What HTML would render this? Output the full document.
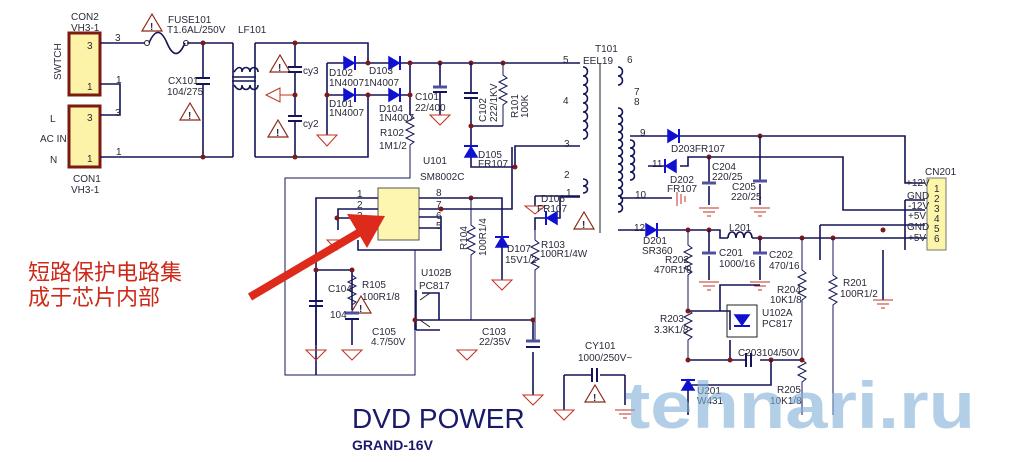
<!DOCTYPE html>
<html><head><meta charset="utf-8"><style>
html,body{margin:0;padding:0;background:#fff;}
svg{display:block;}
text{font-family:"Liberation Sans",sans-serif;font-size:10px;fill:#2a2a3a;}
.w{stroke:#14145a;stroke-width:1.6;fill:none;}
.t{stroke:#222;stroke-width:1;fill:none;}
.d{fill:#7a1a1a;}
.g{stroke:#c03020;stroke-width:1;fill:none;}
.dio{fill:#1010d0;stroke:#1010d0;stroke-width:1.5;}
.c{stroke:#14145a;stroke-width:2;}
.r{stroke:#14145a;stroke-width:1;fill:none;}
</style></head><body>
<svg width="1024" height="462" viewBox="0 0 1024 462" xmlns="http://www.w3.org/2000/svg">
<rect x="69" y="33" width="31" height="62" fill="#fdf3a8" stroke="#7a1a10" stroke-width="3"/>
<rect x="69" y="106" width="31" height="61" fill="#fdf3a8" stroke="#7a1a10" stroke-width="3"/>
<text x="87" y="49">3</text><text x="87" y="90">1</text><text x="87" y="121">3</text><text x="87" y="162">1</text>
<text x="71" y="20">CON2</text><text x="71" y="31">VH3-1</text>
<text x="73" y="182">CON1</text><text x="71" y="193">VH3-1</text>
<text x="61" y="80" transform="rotate(-90 61 80)">SWTCH</text>
<text x="50" y="122">L</text><text x="40" y="142">AC IN</text><text x="50" y="163">N</text>
<path class="w" d="M100 43H145 M187 43H233 M100 84H120V115H100 M100 157H233 M233 43V157 M255 43V157 M255 43H368V63 M255 157H368V95"/>
<text x="115" y="41">3</text><text x="116" y="83">1</text><text x="115" y="116">3</text><text x="116" y="155">1</text>
<circle cx="147" cy="43" r="2.5" class="t"/><circle cx="186" cy="43" r="2.5" class="t"/>
<path class="w" d="M149 43c6 -14 12 -14 18 0s12 14 18 0"/>
<text x="168" y="23">FUSE101</text><text x="167" y="33">T1.6AL/250V</text><text x="238" y="33">LF101</text>
<path class="w" d="M203 43V78 M203 85V157"/><path class="c" d="M196 78H210M196 84H210"/>
<text x="168" y="84">CX101</text><text x="167" y="95">104/275</text>
<circle cx="203" cy="43" r="2.5" class="d"/><circle cx="203" cy="157" r="2.5" class="d"/>
<path class="w" d="M234 72c4-6 8-6 8 0c0-6 8-6 8 0c0-6 8-6 8 0 M234 85c4 6 8 6 8 0c0 6 8 6 8 0c0 6 8 6 8 0 M232 77H256M232 81H256"/>
<g fill="none" stroke="#8a2a1a" stroke-width="1.2">
<path d="M152 14L142 31H162Z"/><path d="M190 103L180 120H200Z"/><path d="M280 55L270 72H290Z"/><path d="M278 120L268 137H288Z"/><path d="M584 212L574 229H594Z"/><path d="M361 296L351 313H371Z"/><path d="M595 385L585 402H605Z"/>
</g>
<g font-weight="bold" font-size="10"><text x="150" y="30">!</text><text x="188" y="119">!</text><text x="278" y="71">!</text><text x="276" y="136">!</text><text x="582" y="228">!</text><text x="359" y="312">!</text><text x="593" y="401">!</text></g>
<path class="w" d="M295 43V67 M295 72V116 M295 121V157"/><path class="c" d="M288 67H302M288 72H302M288 116H302M288 121H302"/>
<text x="303" y="74">cy3</text><text x="303" y="127">cy2</text>
<path class="g" d="M295 95H280 M280 88L266 95L280 102Z"/>
<circle cx="295" cy="43" r="2.5" class="d"/><circle cx="295" cy="95" r="2.5" class="d"/><circle cx="295" cy="157" r="2.5" class="d"/>
<path class="w" d="M327 63V135 M327 63H368H410V95 M327 95H410 M410 63H580 M410 95V115"/>
<path class="g" d="M317 135H337L327 146Z"/>
<path class="dio" d="M344 57L354 63L344 69Z M389 57L399 63L389 69Z M344 89L354 95L344 101Z M389 89L399 95L389 101Z"/>
<path stroke="#1010d0" stroke-width="2" d="M355 56V70M400 56V70M355 88V102M400 88V102"/>
<circle cx="368" cy="63" r="2.5" class="d"/><circle cx="410" cy="63" r="2.5" class="d"/><circle cx="327" cy="95" r="2.5" class="d"/><circle cx="368" cy="95" r="2.5" class="d"/><circle cx="410" cy="95" r="2.5" class="d"/>
<text x="329" y="76">D102</text><text x="329" y="86">1N4007</text><text x="369" y="74">D103</text><text x="364" y="86">1N4007</text>
<text x="329" y="107">D101</text><text x="329" y="116">1N4007</text><text x="379" y="112">D104</text><text x="379" y="121">1N4007</text>
<path class="r" d="M410 115l4 3l-8 4l8 4l-8 4l8 4l-8 4l8 4l-4 3V178H285V375H415V250"/>
<text x="380" y="136">R102</text><text x="379" y="149">1M1/2</text>
<circle cx="440" cy="63" r="2.5" class="d"/><circle cx="471" cy="63" r="2.5" class="d"/><circle cx="503" cy="63" r="2.5" class="d"/>
<path class="w" d="M440 63V86 M440 92V115"/><path stroke="#5050a0" stroke-width="3" d="M433 87H447"/><path class="c" d="M433 92H447"/>
<path class="g" d="M430 115H450L440 125Z"/>
<text x="415" y="100">C101</text><text x="415" y="111">22/400</text>
<path class="w" d="M471 63V93 M471 98V126H503 M471 126V167H515V146H580"/><path class="c" d="M464 93H478M464 98H478"/>
<path class="r" d="M503 63V75l4 3l-8 4l8 4l-8 4l8 4l-8 4l8 4l-4 3V126"/>
<circle cx="471" cy="126" r="2.5" class="d"/><circle cx="515" cy="167" r="2.5" class="d"/>
<text x="486" y="122" transform="rotate(-90 486 122)">C102</text><text x="497" y="122" transform="rotate(-90 497 122)">222/1KV</text>
<text x="518" y="118" transform="rotate(-90 518 118)">R101</text><text x="528" y="118" transform="rotate(-90 528 118)">100K</text>
<path class="dio" d="M465 157L471 147L477 157Z"/><path stroke="#1010d0" stroke-width="2" d="M464 146H478"/>
<text x="478" y="158">D105</text><text x="478" y="167">FR107</text>
<text x="423" y="164">U101</text><text x="420" y="180">SM8002C</text>
<rect x="378" y="188" width="41" height="52" fill="#fdf6b0" stroke="#555" stroke-width="1"/>
<path class="w" d="M378 198H316V375 M378 209H338V230 M378 218H337 M419 198H502V238 M419 209H512V147 M419 217H441V250H358V240 M419 228H441"/>
<circle cx="337" cy="218" r="2.5" class="d"/><circle cx="471" cy="198" r="2.5" class="d"/><circle cx="441" cy="209" r="2.5" class="d"/>
<text x="357" y="197">1</text><text x="357" y="208">2</text><text x="357" y="219">3</text><text x="436" y="196">8</text><text x="436" y="208">7</text><text x="436" y="219">6</text><text x="436" y="229">5</text>
<path class="g" d="M327 240H347L337 250Z"/>
<path class="r" d="M471 198V225l4 3l-8 4l8 4l-8 4l8 4l-8 4l8 4l-4 3V320"/>
<text x="467" y="250" transform="rotate(-90 467 250)">R104</text><text x="486" y="256" transform="rotate(-90 486 256)">100R1/4</text>
<path class="dio" d="M496 247L502 237L508 247Z"/><path stroke="#1010d0" stroke-width="2" d="M495 237H509"/>
<path class="w" d="M502 247V280"/><path class="g" d="M492 280H512L502 290Z"/>
<text x="507" y="252">D107</text><text x="505" y="263">15V1/2</text>
<path class="w" d="M535 196H580 M535 196V206 M545 218H560V197H580 M535 230V218H545"/>
<path class="g" d="M525 206H545L535 214Z"/>
<path class="dio" d="M557 212L547 218L557 224Z"/><path stroke="#1010d0" stroke-width="2" d="M546 211V225"/>
<text x="541" y="202">D106</text><text x="537" y="212">FR107</text>
<path class="r" d="M535 230V240l4 3l-8 4l8 4l-8 4l8 4l-8 4l8 4l-4 3V340"/>
<text x="541" y="248">R103</text><text x="540" y="257">100R1/4W</text>
<text x="595" y="52">T101</text><text x="583" y="64">EEL19</text>
<text x="563" y="63">5</text><text x="563" y="104">4</text><text x="564" y="147">3</text><text x="564" y="178">2</text><text x="566" y="196">1</text>
<path class="t" d="M600 63V233"/>
<path class="w" d="M583 67c6 0 6 9 0 9c6 0 6 9 0 9c6 0 6 9 0 9c6 0 6 9 0 9c6 0 6 9 0 9c6 0 6 9 0 9c6 0 6 9 0 9c6 0 6 9 0 9 M583 179c6 0 6 7 0 7c6 0 6 7 0 7"/>
<path class="w" d="M618 67c6 0 6 9 0 9c6 0 6 9 0 9 M618 108c6 0 6 8 0 8c6 0 6 8 0 8c6 0 6 8 0 8c6 0 6 8 0 8c6 0 6 8 0 8c6 0 6 8 0 8c6 0 6 8 0 8c6 0 6 8 0 8c6 0 6 8 0 8c6 0 6 8 0 8c6 0 6 8 0 8c6 0 6 8 0 8c6 0 6 8 0 8"/>
<path class="w" d="M630 140c6 0 6 8 0 8c6 0 6 8 0 8c6 0 6 8 0 8c6 0 6 8 0 8c6 0 6 8 0 8"/>
<text x="627" y="63">6</text><text x="634" y="95">7</text><text x="634" y="105">8</text><text x="640" y="136">9</text><text x="652" y="167">11</text><text x="635" y="198">10</text><text x="634" y="231">12</text>
<path class="w" d="M630 136H672 M680 136H905V183H925 M648 166H672 M680 166H688V157H843V210H925 M620 198H672 M618 230H645 M655 230H720V238H728 M752 238H930 M905 200V250 M905 200H925 M820 225V260 M820 225H925"/>
<path class="dio" d="M668 130L678 136L668 142Z M676 160L666 166L676 172Z M646 224L656 230L646 236Z"/><path stroke="#1010d0" stroke-width="2" d="M679 129V143M665 159V173M657 223V237"/>
<path stroke="#c03020" d="M677 192V206M681 194V204M685 196V202"/>
<text x="671" y="152">D203FR107</text><text x="670" y="183">D202</text><text x="667" y="192">FR107</text>
<circle cx="760" cy="136" r="2.5" class="d"/><circle cx="709" cy="157" r="2.5" class="d"/>
<path class="w" d="M709 157V182 M709 186V205 M760 136V180 M760 184V205"/><path stroke="#5050a0" stroke-width="3" d="M702 183H716M753 181H767"/>
<path class="g" d="M699 208H719M703 212H715M707 216H711 M750 208H770M754 212H766M758 216H762"/>
<text x="712" y="170">C204</text><text x="712" y="180">220/25</text><text x="732" y="190">C205</text><text x="731" y="200">220/25</text>
<rect x="927" y="178" width="19" height="72" fill="#fdf6a8" stroke="#777"/>
<text x="925" y="175">CN201</text>
<g font-size="9.5"><text x="906" y="186">+12V</text><text x="907" y="199">GND</text><text x="908" y="209">-12V</text><text x="908" y="219">+5V</text><text x="907" y="230">GND</text><text x="908" y="241">+5V</text>
<text x="934" y="192">1</text><text x="934" y="202">2</text><text x="934" y="212">3</text><text x="934" y="222">4</text><text x="934" y="232">5</text><text x="934" y="242">6</text></g>
<path class="w" d="M883 250V300"/><path class="g" d="M873 300H893M877 304H889M881 308H885"/>
<text x="643" y="244">D201</text><text x="642" y="254">SR360</text><text x="729" y="231">L201</text>
<path class="w" d="M728 238c0-8 8-8 8 0c0-8 8-8 8 0c0-8 8-8 8 0"/>
<circle cx="688" cy="230" r="2.5" class="d"/><circle cx="709" cy="230" r="2.5" class="d"/><circle cx="760" cy="238" r="2.5" class="d"/><circle cx="802" cy="238" r="2.5" class="d"/><circle cx="833" cy="238" r="2.5" class="d"/><circle cx="883" cy="230" r="2.5" class="d"/>
<path class="w" d="M709 230V252 M709 256V280 M760 238V252 M760 256V280"/><path stroke="#5050a0" stroke-width="3" d="M702 253H716M753 253H767"/>
<path class="g" d="M699 282H719M703 286H715M707 290H711 M750 282H770M754 286H766M758 290H762"/>
<text x="719" y="256">C201</text><text x="719" y="267">1000/16</text><text x="769" y="258">C202</text><text x="769" y="269">470/16</text>
<path class="r" d="M688 230V245l4 3l-8 4l8 4l-8 4l8 4l-8 4l8 4l-4 3V310l4 3l-8 4l8 4l-8 4l8 4l-8 4l8 4l-4 3V360"/>
<text x="665" y="263">R202</text><text x="654" y="273">470R1/8</text><text x="660" y="322">R203</text><text x="654" y="333">3.3K1/8</text>
<path class="r" d="M802 238V270l4 3l-8 4l8 4l-8 4l8 4l-8 4l8 4l-4 3V360l4 3l-8 4l8 4l-8 4l8 4l-4 3V415"/>
<text x="777" y="293">R204</text><text x="770" y="303">10K1/8</text><text x="777" y="393">R205</text><text x="770" y="404">10K1/8</text>
<path class="r" d="M833 238V275l4 3l-8 4l8 4l-8 4l8 4l-8 4l8 4l-4 3V415"/>
<text x="843" y="286">R201</text><text x="840" y="297">100R1/2</text>
<path class="w" d="M688 311H720V285H760 M720 311H730V330 M688 360H745 M760 360H802 M730 340V360"/><path class="c" d="M746 353V367M751 353V367"/>
<rect x="727" y="305" width="30" height="32" class="t"/>
<path class="dio" d="M735 315H749L742 325Z"/><path stroke="#1010d0" stroke-width="2" d="M734 326H750"/>
<text x="762" y="316">U102A</text><text x="762" y="327">PC817</text><text x="738" y="356">C203104/50V</text>
<circle cx="688" cy="311" r="2.5" class="d"/><circle cx="688" cy="360" r="2.5" class="d"/><circle cx="730" cy="360" r="2.5" class="d"/><circle cx="771" cy="360" r="2.5" class="d"/><circle cx="802" cy="360" r="2.5" class="d"/>
<path class="w" d="M771 360V385H688"/>
<path class="dio" d="M682 390L688 380L694 390Z"/><path stroke="#1010d0" stroke-width="2" d="M681 380H695"/>
<text x="697" y="394">U201</text><text x="697" y="404">W431</text>
<path class="w" d="M688 390V415"/>
<path class="w" d="M316 270H352V310 M352 320V345 M316 270V300 M316 305V345 M352 270V275"/>
<circle cx="316" cy="270" r="2.5" class="d"/><circle cx="352" cy="270" r="2.5" class="d"/>
<path class="r" d="M352 275l4 3l-8 4l8 4l-8 4l8 4l-8 4l8 4l-4 3"/>
<path class="c" d="M309 301H323M309 306H323"/><path stroke="#5050a0" stroke-width="3" d="M345 313H359"/><path class="c" d="M345 319H359"/>
<path class="g" d="M306 350H326L316 360Z M342 350H362L352 360Z M457 350H477L467 360Z"/>
<text x="328" y="292">C104</text><text x="330" y="318">104</text><text x="362" y="288">R105</text><text x="362" y="300">100R1/8</text><text x="372" y="335">C105</text><text x="371" y="345">4.7/50V</text>
<text x="421" y="276">U102B</text><text x="419" y="289">PC817</text>
<path class="w" d="M422 293H439V320 M416 330H440 M416 290V330 M415 320V330 M415 320H533 M533 320V340 M533 352V395"/>
<path class="t" d="M420 300L430 293M420 320L430 327"/>
<path stroke="#5050a0" stroke-width="3" d="M526 341H540"/><path class="c" d="M526 347H540"/>
<circle cx="415" cy="320" r="2.5" class="d"/><circle cx="533" cy="320" r="2.5" class="d"/>
<text x="482" y="335">C103</text><text x="479" y="345">22/35V</text>
<path class="g" d="M523 395H543L533 405Z"/>
<path class="w" d="M564 375H592 M600 375H625 M564 375V410 M625 375V405"/><path class="c" d="M592 368V382M597 368V382"/>
<text x="585" y="349">CY101</text><text x="578" y="361">1000/250V~</text>
<path class="g" d="M554 410H574L564 420Z M615 410H635M619 414H631M623 418H627"/>
<path d="M250 297L360 232" stroke="#dd2a1a" stroke-width="8"/><path d="M385 216L347 214L367 248Z" fill="#dd2a1a"/>
<text x="28" y="280" style="font-family:'Liberation Sans','Noto Sans CJK SC',sans-serif;font-size:22px;fill:#cc2a1a">短路保护电路集</text>
<text x="28" y="305" style="font-family:'Liberation Sans','Noto Sans CJK SC',sans-serif;font-size:22px;fill:#cc2a1a">成于芯片内部</text>
<text x="352" y="428" style="font-size:28px;fill:#1a1a6a">DVD POWER</text>
<text x="352" y="450" style="font-size:14px;font-weight:bold;fill:#1a1a6a">GRAND-16V</text>
<text x="625" y="428" textLength="350" lengthAdjust="spacingAndGlyphs" style="font-size:66px;font-weight:bold;fill:#7fb0d8;opacity:0.6">tehnari.ru</text>
</svg>
</body></html>
